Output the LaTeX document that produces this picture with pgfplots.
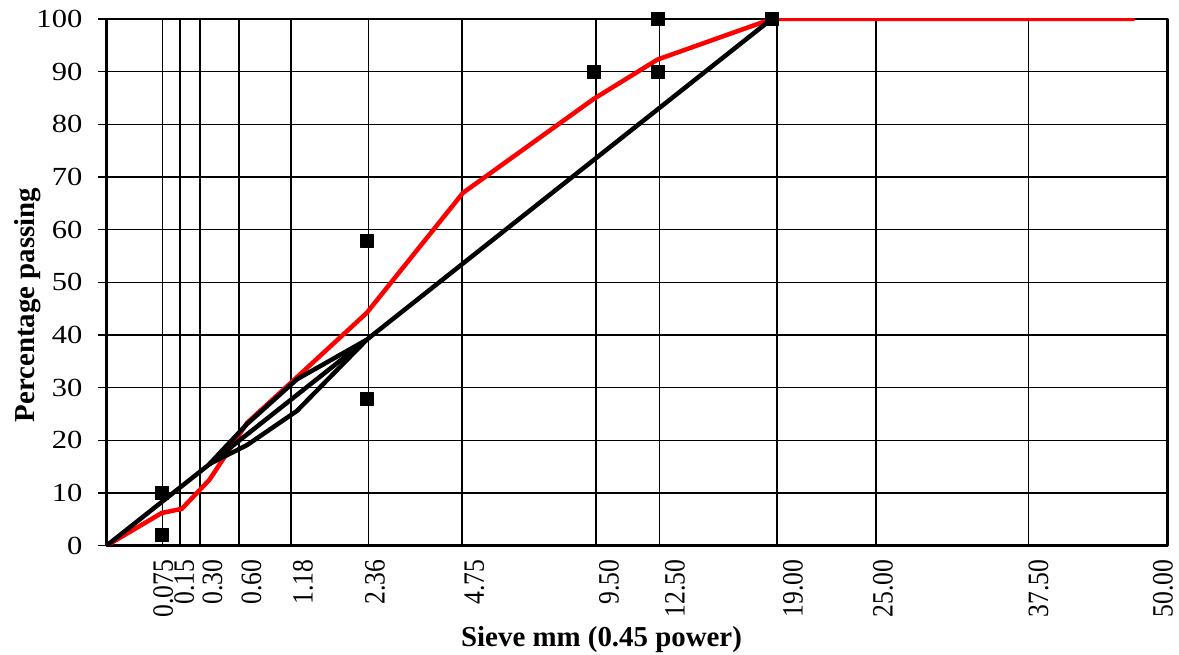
\documentclass[border=0pt]{standalone}
\usepackage{fontspec}
\setmainfont{Liberation Serif}
\newfontfamily\ytickfont[FakeStretch=1.17]{Liberation Serif}
\newfontfamily\xtickfont[FakeStretch=0.87]{Liberation Serif}
\usepackage{pgfplots}
\pgfplotsset{compat=1.18}
\begin{document}
\begin{tikzpicture}
\path[use as bounding box] (-106.5bp,-109.3bp) rectangle (1072.5bp,545.7bp);
\begin{axis}[
 at={(0,0)}, anchor=south west,
 scale only axis, width=1061bp, height=526.7bp,
 xmin=0, xmax=6, ymin=0, ymax=100,
 axis line style={line width=2.5bp},
 ytick={0,10,...,100},
 ymajorgrids,
 grid style={black, line width=1.4bp},
 ytick pos=left, xtick pos=bottom,
 xtick align=inside, ytick align=outside,
 major tick length=8bp,
 ytick style={black, line width=1.4bp},
 xtick={0.3216,0.4394,0.6002,0.8199,1.1116,1.5185,2.0803,2.8417,3.2152,3.8819,4.3921,5.2711,5.975},
 xticklabels={0.075,0.15,0.30,0.60,1.18,2.36,4.75,9.50,12.50,19.00,25.00,37.50,50.00},
 xtick style={draw=none},
 extra x ticks={0.3175,0.4153,0.5282,0.7503,1.0424,1.4802,2.0102,2.7684,3.1260,3.7910,4.3514,5.2136},
 extra x tick labels={},
 extra x tick style={grid=major, xtick style={draw=none}},
 xticklabel style={rotate=90, anchor=east, inner sep=0pt, font=\fontsize{29.6}{30}\xtickfont},
 yticklabel style={inner sep=0pt, font=\fontsize{26.2}{30}\ytickfont},
 xticklabel shift=14bp,
 yticklabel shift=16bp,
 /pgf/number format/assume math mode=true,
 xlabel={Sieve mm (0.45 power)},
 ylabel={Percentage passing},
 every axis x label/.style={at={(axis description cs:0.4666,-0.1918)}, anchor=base, font=\fontsize{29}{34}\selectfont\bfseries},
 every axis y label/.style={at={(axis description cs:-0.0683,0.457)}, rotate=90, anchor=base, font=\fontsize{29}{34}\selectfont\bfseries},
 line join=round,
]
\addplot[red, line width=4.5bp] coordinates {(0,0) (0.31172,6.2) (0.42586,7.0) (0.58170,12.5) (0.79465,23.3) (1.07732,32.0) (1.47167,44.2) (2.01616,67.0) (2.75408,84.8) (3.11603,92.3) (3.76222,100) (4.25669,100) (5.10858,100) (5.81487,100)};
\addplot[black, line width=4.5bp] coordinates {(0,0) (3.76222,100)};
\addplot[black, line width=4.5bp] coordinates {(0.58170,15.5) (0.79465,19.1) (1.07732,25.6) (1.47167,39.1)};
\addplot[black, line width=4.5bp] coordinates {(0.58170,15.5) (0.79465,23.1) (1.07732,31.6) (1.47167,39.1)};
\addplot[only marks, mark=square*, mark size=6.5bp, black] coordinates {(0.31172,2) (0.31172,10) (1.47167,28) (1.47167,58) (2.75408,90) (3.11603,90) (3.11603,100) (3.76222,100)};
\end{axis}
\end{tikzpicture}
\end{document}
